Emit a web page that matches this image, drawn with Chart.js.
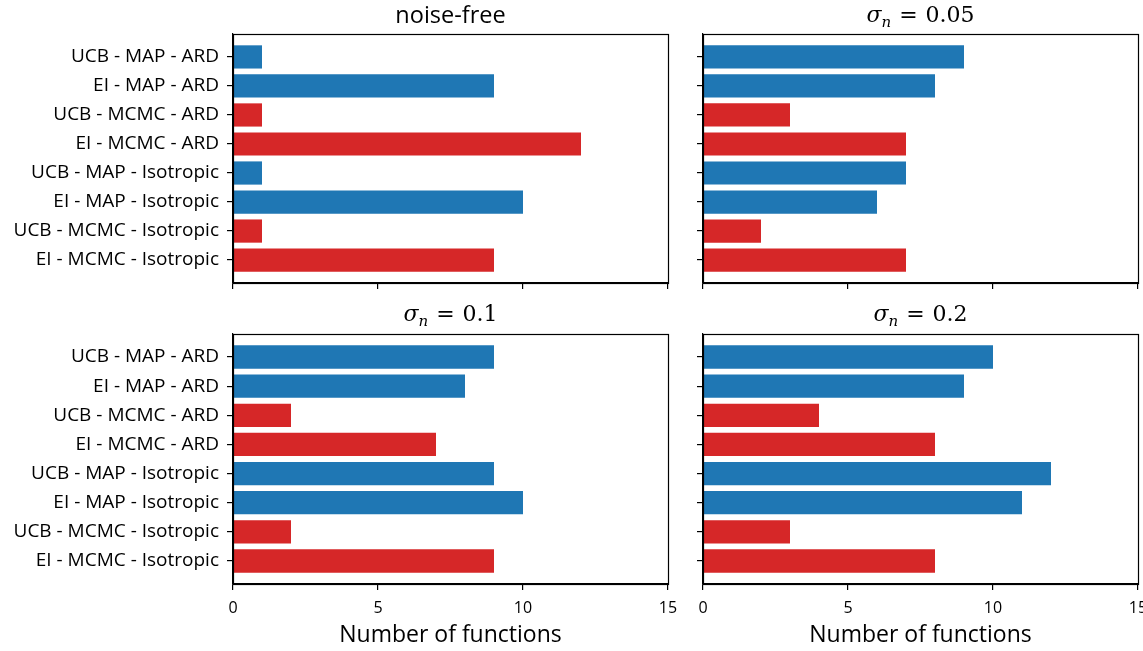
<!DOCTYPE html>
<html>
<head>
<meta charset="utf-8">
<script src="https://cdn.jsdelivr.net/npm/chart.js@4/dist/chart.umd.min.js"></script>
<style>
  html, body { margin: 0; padding: 0; background: #fff; }
  #wrap { position: relative; width: 1143px; height: 651px; }
  .cell { position: absolute; }
</style>
</head>
<body>
<div id="wrap">
  <div class="cell" style="left:0;top:0;width:680px;height:300px"><canvas id="c0"></canvas></div>
  <div class="cell" style="left:680px;top:0;width:463px;height:300px"><canvas id="c1"></canvas></div>
  <div class="cell" style="left:0;top:300px;width:680px;height:351px"><canvas id="c2"></canvas></div>
  <div class="cell" style="left:680px;top:300px;width:463px;height:351px"><canvas id="c3"></canvas></div>
</div>
<script>
// data
const methods = [
  'UCB - MAP - ARD', 'EI - MAP - ARD', 'UCB - MCMC - ARD', 'EI - MCMC - ARD',
  'UCB - MAP - Isotropic', 'EI - MAP - Isotropic', 'UCB - MCMC - Isotropic', 'EI - MCMC - Isotropic'
];
const noiseFree = [1, 9, 1, 12, 1, 10, 1, 9];
const sigma005 = [9, 8, 3, 7, 7, 6, 2, 7];
const sigma01 = [9, 8, 2, 7, 9, 10, 2, 9];
const sigma02 = [10, 9, 4, 8, 12, 11, 3, 8];
const xTicks = [0, 5, 10, 15];
const xLabel = 'Number of functions';

const BLUE = '#1f77b4', RED = '#d62728';
const SANS = 'Open Sans';
const SERIF = 'DejaVu Serif';
const barColors = methods.map((m) => (m.includes('MCMC') ? RED : BLUE));

// box around the plot area (matplotlib spines)
const framePlugin = {
  id: 'frame',
  afterDraw(chart) {
    const a = chart.chartArea, ctx = chart.ctx;
    ctx.save();
    ctx.strokeStyle = '#000';
    ctx.lineWidth = 1.2;
    ctx.strokeRect(Math.round(a.left) + 0.5, Math.round(a.top) + 0.5,
      Math.round(a.right - a.left), Math.round(a.bottom - a.top));
    ctx.restore();
  },
};

// panel title; sigma_n drawn with an italic subscript
const titlePlugin = {
  id: 'panelTitle',
  afterDraw(chart, args, opts) {
    const ctx = chart.ctx, a = chart.chartArea;
    const cx = (a.left + a.right) / 2, y = opts.y;
    ctx.save();
    ctx.fillStyle = '#000';
    ctx.textBaseline = 'alphabetic';
    if (!opts.sigma) {
      ctx.font = `23.5px ${SANS}`;
      ctx.textAlign = 'center';
      ctx.fillText(opts.text, cx, y);
    } else {
      const f1 = `italic 22px ${SERIF}`, f2 = `italic 15px ${SERIF}`, f3 = `22px ${SERIF}`;
      const gap = 8;
      ctx.font = f1; const w1 = ctx.measureText('σ').width;
      ctx.font = f2; const w2 = ctx.measureText('n').width;
      ctx.font = f3; const we = ctx.measureText('=').width;
      const w3 = ctx.measureText(opts.text).width;
      let x = cx - (w1 + w2 + gap + we + gap + w3) / 2;
      ctx.textAlign = 'left';
      ctx.font = f1; ctx.fillText('σ', x, y); x += w1;
      ctx.font = f2; ctx.fillText('n', x, y + 5); x += w2 + gap;
      ctx.font = f3; ctx.fillText('=', x, y); x += we + gap;
      ctx.fillText(opts.text, x, y);
    }
    ctx.restore();
  },
};

function panel(id, values, cfg) {
  new Chart(document.getElementById(id), {
    type: 'bar',
    data: {
      datasets: [{
        data: values.map((v, i) => ({ x: v, y: i })),
        backgroundColor: barColors,
        borderWidth: 0,
        barPercentage: 0.8,
        categoryPercentage: 1,
      }],
    },
    options: {
      indexAxis: 'y',
      responsive: true,
      maintainAspectRatio: false,
      animation: false,
      events: [],
      layout: { padding: { top: 34, right: cfg.padRight, left: 0, bottom: 0 } },
      plugins: {
        legend: { display: false },
        tooltip: { enabled: false },
        panelTitle: { text: cfg.title, sigma: cfg.sigma, y: cfg.titleY },
      },
      scales: {
        x: {
          type: 'linear', min: 0, max: 15,
          afterBuildTicks: (s) => { s.ticks = xTicks.map((v) => ({ value: v })); },
          afterFit: (s) => { s.height = cfg.xHeight; s.paddingLeft = 0; s.paddingRight = 0; },
          ticks: {
            callback: (v) => (cfg.xLabels ? String(v) : ''),
            color: '#000', font: { family: SANS, size: 16 }, padding: 9, maxRotation: 0,
          },
          grid: { drawOnChartArea: false, drawTicks: true, tickLength: 6, color: '#000', lineWidth: 1.2 },
          border: { display: true, color: '#000', width: 1.2 },
          title: {
            display: cfg.xLabels, text: xLabel, color: '#000',
            font: { family: SANS, size: 23 }, padding: { top: 2, bottom: 2 },
          },
        },
        y: {
          type: 'linear', min: -0.79, max: 7.79, reverse: true, offset: false,
          afterBuildTicks: (s) => { s.ticks = methods.map((_, i) => ({ value: i })); },
          afterFit: (s) => { s.width = cfg.yWidth; s.paddingTop = 0; s.paddingBottom = 0; },
          ticks: {
            autoSkip: false,
            callback: (v) => (cfg.yLabels ? methods[v] : ''),
            color: '#000', font: { family: SANS, size: 19 }, padding: 8,
          },
          grid: { offset: false, drawOnChartArea: false, drawTicks: true, tickLength: 6, color: '#000', lineWidth: 1.2 },
          border: { display: true, color: '#000', width: 1.2 },
        },
      },
    },
    plugins: [framePlugin, titlePlugin],
  });
}

panel('c0', noiseFree, { title: 'noise-free', sigma: false, titleY: 23, padRight: 12, yWidth: 233, xHeight: 17, xLabels: false, yLabels: true });
panel('c1', sigma005, { title: '0.05', sigma: true, titleY: 22, padRight: 5, yWidth: 23, xHeight: 17, xLabels: false, yLabels: false });
panel('c2', sigma01, { title: '0.1', sigma: true, titleY: 21, padRight: 12, yWidth: 233, xHeight: 67, xLabels: true, yLabels: true });
panel('c3', sigma02, { title: '0.2', sigma: true, titleY: 21, padRight: 5, yWidth: 23, xHeight: 67, xLabels: true, yLabels: false });
</script>
</body>
</html>
